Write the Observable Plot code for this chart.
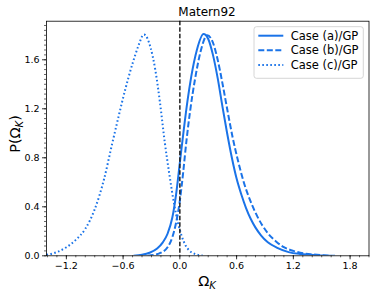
<!DOCTYPE html>
<html>
<head>
<meta charset="utf-8">
<script src="https://cdn.jsdelivr.net/npm/d3@7"></script>
<script src="https://cdn.jsdelivr.net/npm/@observablehq/plot@0.6"></script>
<style>
  html, body { margin: 0; padding: 0; background: white; }
</style>
</head>
<body>
<div id="chart"></div>
<script>
// ---- data ----
const caseAx = [-0.49, -0.40, -0.32, -0.24, -0.18, -0.13, -0.08, -0.04, 0.0, 0.04, 0.08, 0.12, 0.18, 0.25, 0.30, 0.35, 0.40, 0.45, 0.50, 0.55, 0.60, 0.65, 0.70, 0.75, 0.80, 0.86, 0.93, 1.03, 1.15, 1.28, 1.45, 1.64];
const caseAy = [0.0, 0.008, 0.025, 0.06, 0.11, 0.18, 0.31, 0.50, 0.76, 1.02, 1.26, 1.46, 1.68, 1.81, 1.77, 1.64, 1.45, 1.22, 1.00, 0.80, 0.63, 0.50, 0.39, 0.30, 0.23, 0.165, 0.11, 0.065, 0.03, 0.014, 0.005, 0.0];

const caseBx = [-0.34, -0.28, -0.20, -0.13, -0.08, -0.04, 0.0, 0.035, 0.07, 0.11, 0.16, 0.22, 0.29, 0.35, 0.40, 0.45, 0.50, 0.56, 0.62, 0.68, 0.75, 0.82, 0.93, 1.02, 1.10, 1.20, 1.32, 1.45, 1.60];
const caseBy = [0.0, 0.006, 0.025, 0.07, 0.15, 0.27, 0.45, 0.68, 0.94, 1.19, 1.44, 1.67, 1.80, 1.74, 1.60, 1.41, 1.20, 0.96, 0.76, 0.59, 0.44, 0.32, 0.185, 0.115, 0.07, 0.04, 0.018, 0.008, 0.0];

const caseCx = [-1.41, -1.30, -1.20, -1.10, -1.00, -0.90, -0.80, -0.72, -0.65, -0.58, -0.50, -0.44, -0.38, -0.31, -0.26, -0.21, -0.16, -0.11, -0.06, -0.02, 0.02, 0.06, 0.10, 0.16, 0.25];
const caseCy = [0.008, 0.03, 0.07, 0.13, 0.22, 0.38, 0.63, 0.90, 1.13, 1.35, 1.57, 1.71, 1.807, 1.70, 1.52, 1.25, 0.93, 0.66, 0.42, 0.27, 0.16, 0.085, 0.043, 0.015, 0.0];

const legendLabels = ["Case (a)/GP", "Case (b)/GP", "Case (c)/GP"];
const xTicks = [-1.2, -0.6, 0.0, 0.6, 1.2, 1.8];
const yTicks = [0.0, 0.4, 0.8, 1.2, 1.6];
const titleText = "Matern92";

// ---- build ----
const blue = "#1a73e8";
const toRows = (xs, ys) => xs.map((x, i) => ({x, y: ys[i]}));
const rowsA = toRows(caseAx, caseAy);
const rowsB = toRows(caseBx, caseBy);
const rowsC = toRows(caseCx, caseCy);
const xMinor = d3.range(-14, 21).map(d => d / 10);
const yMinor = d3.range(0, 48).map(d => d * 0.04);

const dashes = [null, "6,2.5", "1.6,2.4"];
const lineOpts = {x: "x", y: "y", stroke: blue, strokeWidth: 2, strokeLinecap: "butt", curve: "monotone-x", clip: true};

const chart = Plot.plot({
  width: 374,
  height: 296,
  marginLeft: 46,
  marginRight: 5.5,
  marginTop: 20.7,
  marginBottom: 40.7,
  style: {fontFamily: "DejaVu Sans", fontSize: "9.5px", background: "white", color: "black"},
  x: {domain: [-1.41, 2.0]},
  y: {domain: [0, 1.915]},
  marks: [
    Plot.line(rowsA, lineOpts),
    Plot.line(rowsB, {...lineOpts, strokeDasharray: dashes[1]}),
    Plot.line(rowsC, {...lineOpts, strokeDasharray: dashes[2]}),
    Plot.ruleX([0], {stroke: "#222", strokeWidth: 1.5, strokeDasharray: "4.5,2"}),
    Plot.frame({stroke: "black", strokeWidth: 0.8}),
    Plot.axisX(xMinor, {tickSize: 2, tickFormat: () => "", label: null, strokeWidth: 0.6}),
    Plot.axisX(xTicks, {tickSize: 4, tickPadding: 2, tickFormat: d3.format(".1f"), label: null, strokeWidth: 0.8}),
    Plot.axisY(yMinor, {tickSize: 2, tickFormat: () => "", label: null, strokeWidth: 0.6}),
    Plot.axisY(yTicks, {tickSize: 4, tickPadding: 3, tickFormat: d3.format(".1f"), label: null, strokeWidth: 0.8})
  ]
});

const svg = d3.select(chart);
const font = "DejaVu Sans";

// title
svg.append("text")
  .attr("x", 207).attr("y", 15.5)
  .attr("text-anchor", "middle")
  .attr("font-family", font).attr("font-size", 12).attr("fill", "black")
  .text(titleText);

// x label
const xl = svg.append("text")
  .attr("x", 207).attr("y", 286)
  .attr("text-anchor", "middle")
  .attr("font-family", font).attr("font-size", 14.5).attr("fill", "black");
xl.append("tspan").text("Ω");
xl.append("tspan").attr("font-size", 10).attr("font-style", "italic").attr("dy", 3).text("K");

// y label
const yl = svg.append("text")
  .attr("transform", "translate(19.5,134) rotate(-90)")
  .attr("text-anchor", "middle")
  .attr("font-family", font).attr("font-size", 14.5).attr("fill", "black");
yl.append("tspan").text("P(Ω");
yl.append("tspan").attr("font-size", 10).attr("font-style", "italic").attr("dy", 3).text("K");
yl.append("tspan").attr("dy", -3).text(")");

// legend
const lg = svg.append("g");
lg.append("rect")
  .attr("x", 254).attr("y", 26.7).attr("width", 109.3).attr("height", 51.6)
  .attr("rx", 2.5).attr("fill", "white").attr("fill-opacity", 0.8)
  .attr("stroke", "#cccccc").attr("stroke-width", 0.8);
legendLabels.forEach((label, i) => {
  const yy = 35.7 + i * 14.6;
  lg.append("line")
    .attr("x1", 258.3).attr("x2", 283.3).attr("y1", yy).attr("y2", yy)
    .attr("stroke", blue).attr("stroke-width", 2)
    .attr("stroke-linecap", "butt")
    .attr("stroke-dasharray", dashes[i]);
  lg.append("text")
    .attr("x", 290.7).attr("y", yy).attr("dy", "0.36em")
    .attr("text-anchor", "start")
    .attr("font-family", font).attr("font-size", 11.5).attr("fill", "black")
    .text(label);
});

document.getElementById("chart").appendChild(chart);
</script>
</body>
</html>
